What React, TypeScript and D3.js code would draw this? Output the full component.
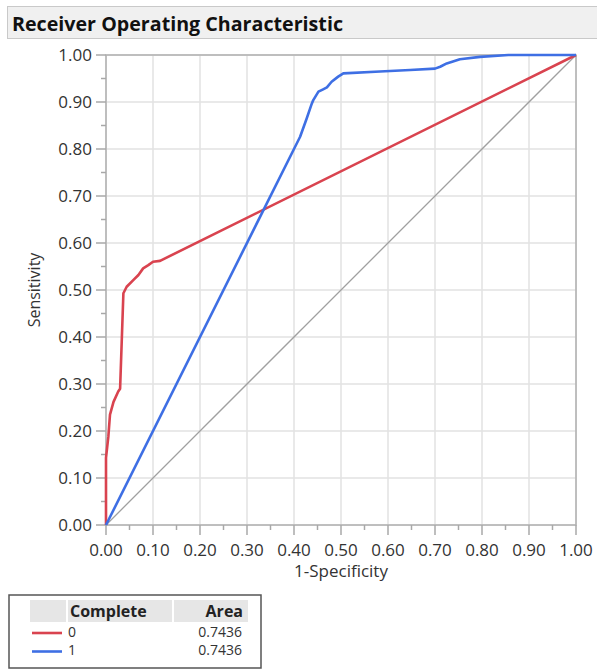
import React from "react";
import * as d3 from "d3";

// ROC points (1-Specificity, Sensitivity)
const fpr0 = [0, 0, 0.005, 0.0085, 0.016, 0.026, 0.03, 0.037, 0.044, 0.058, 0.069, 0.079, 0.09, 0.1, 0.115, 1];
const tpr0 = [0, 0.143, 0.188, 0.235, 0.262, 0.284, 0.29, 0.493, 0.507, 0.521, 0.532, 0.546, 0.553, 0.56, 0.562, 1];

const fpr1 = [0, 0.413, 0.427, 0.438, 0.441, 0.452, 0.462, 0.47, 0.48, 0.494, 0.505, 0.583, 0.647, 0.7, 0.711, 0.725, 0.753, 0.796, 0.856, 1];
const tpr1 = [0, 0.826, 0.865, 0.897, 0.904, 0.922, 0.927, 0.931, 0.943, 0.954, 0.961, 0.965, 0.968, 0.971, 0.975, 0.982, 0.991, 0.996, 1, 1];

const groups = ["0", "1"];
const areas = ["0.7436", "0.7436"];
const colors = ["#d9434f", "#3e6fe4"];

const majorTicks = d3.range(0, 1.0001, 0.1);
const minorTicks = d3.range(0.05, 1, 0.1);

const W = 597;
const H = 671;
const margin = { left: 106, right: 21, top: 55, bottom: 146 };
const font = "'Open Sans', 'Segoe UI', sans-serif";

export default function App() {
  const x = d3.scaleLinear().domain([0, 1]).range([margin.left, W - margin.right]);
  const y = d3.scaleLinear().domain([0, 1]).range([H - margin.bottom, margin.top]);
  const fmt = d3.format(".2f");

  const line = d3.line<[number, number]>().x(d => x(d[0])).y(d => y(d[1]));
  const series = [
    fpr0.map((v, i) => [v, tpr0[i]] as [number, number]),
    fpr1.map((v, i) => [v, tpr1[i]] as [number, number]),
  ];

  const x0 = x(0), x1 = x(1), y0 = y(0), y1 = y(1);

  return (
    <svg width={W} height={H} style={{ position: "absolute", left: 0, top: 0, background: "#fff" }}>
      {/* title bar */}
      <rect x={7.5} y={6.5} width={590} height={32} fill="#f0f0f0" stroke="#c9c9c9" />
      <text x={12} y={31} fontFamily={font} fontWeight={700} fontSize={20} fill="#111" textLength={331} lengthAdjust="spacingAndGlyphs">
        Receiver Operating Characteristic
      </text>

      {/* grid */}
      {majorTicks.map(t => (
        <g key={"g" + t}>
          <line x1={x(t)} x2={x(t)} y1={y0} y2={y1} stroke="#e2e2e2" strokeWidth={1.5} />
          <line x1={x0} x2={x1} y1={y(t)} y2={y(t)} stroke="#e2e2e2" strokeWidth={1.5} />
        </g>
      ))}

      {/* frame */}
      <rect x={x0} y={y1} width={x1 - x0} height={y0 - y1} fill="none" stroke="#b0b0b0" strokeWidth={1.5} />

      {/* ticks */}
      {majorTicks.map(t => (
        <g key={"t" + t}>
          <line x1={x0 - 10} x2={x0} y1={y(t)} y2={y(t)} stroke="#a8a8a8" strokeWidth={1.5} />
          <line x1={x(t)} x2={x(t)} y1={y0} y2={y0 + 10} stroke="#a8a8a8" strokeWidth={1.5} />
          <text x={x0 - 14} y={y(t)} dy="0.35em" textAnchor="end" fontFamily={font} fontSize={17} fill="#333">
            {fmt(t)}
          </text>
          <text x={x(t)} y={y0 + 25} dy="0.35em" textAnchor="middle" fontFamily={font} fontSize={17} fill="#333">
            {fmt(t)}
          </text>
        </g>
      ))}
      {minorTicks.map(t => (
        <g key={"m" + t}>
          <line x1={x0 - 5} x2={x0} y1={y(t)} y2={y(t)} stroke="#a8a8a8" strokeWidth={1.5} />
          <line x1={x(t)} x2={x(t)} y1={y0} y2={y0 + 5} stroke="#a8a8a8" strokeWidth={1.5} />
        </g>
      ))}

      {/* axis titles */}
      <text x={(x0 + x1) / 2} y={577} textAnchor="middle" fontFamily={font} fontSize={17} fill="#333">
        1-Specificity
      </text>
      <text
        transform={`translate(40,${(y0 + y1) / 2}) rotate(-90)`}
        textAnchor="middle"
        fontFamily={font}
        fontSize={16}
        fill="#333"
      >
        Sensitivity
      </text>

      {/* diagonal */}
      <line x1={x0} y1={y0} x2={x1} y2={y1} stroke="#a0a0a0" strokeWidth={1.3} />

      {/* curves */}
      {series.map((s, i) => (
        <path key={i} d={line(s) || ""} fill="none" stroke={colors[i]} strokeWidth={2.6} strokeLinejoin="round" />
      ))}

      {/* legend */}
      <rect x={9} y={595} width={252} height={73} fill="#fff" stroke="#555" strokeWidth={1.5} />
      <rect x={30} y={600} width={36} height={22} fill="#e6e6e6" />
      <rect x={68} y={600} width={104} height={22} fill="#e6e6e6" />
      <rect x={174} y={600} width={74} height={22} fill="#e6e6e6" />
      <text x={70} y={611} dy="0.35em" fontFamily={font} fontWeight={700} fontSize={16} fill="#222">
        Complete
      </text>
      <text x={243} y={611} dy="0.35em" textAnchor="end" fontFamily={font} fontWeight={700} fontSize={16} fill="#222">
        Area
      </text>
      {groups.map((g, i) => (
        <g key={g}>
          <line x1={32} x2={62} y1={633 + i * 18.5} y2={633 + i * 18.5} stroke={colors[i]} strokeWidth={2.6} />
          <text x={68} y={632 + i * 18.5} dy="0.33em" fontFamily={font} fontSize={14} fill="#333">
            {g}
          </text>
          <text x={242} y={632 + i * 18.5} dy="0.33em" textAnchor="end" fontFamily={font} fontSize={14} fill="#333">
            {areas[i]}
          </text>
        </g>
      ))}
    </svg>
  );
}
